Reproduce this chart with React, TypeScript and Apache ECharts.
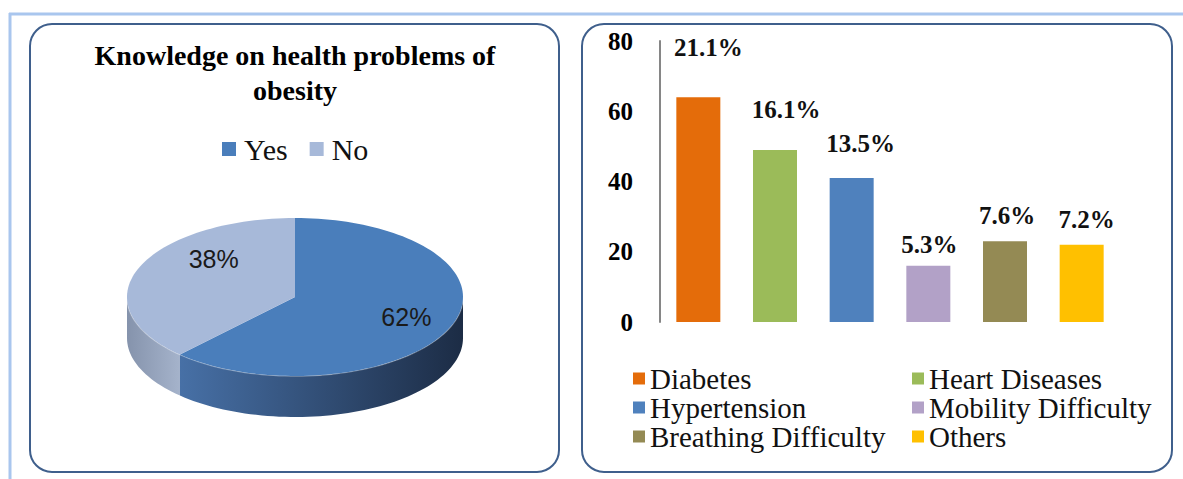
import React, { useEffect, useRef } from "react";
import * as echarts from "echarts";

// ---------- data ----------
const pieNames = ["Yes", "No"];
const pieValues = [62, 38];

const barCategories = [
  "Diabetes",
  "Heart Diseases",
  "Hypertension",
  "Mobility Difficulty",
  "Breathing Difficulty",
  "Others",
];
const barValues = [64, 49, 41, 16, 23, 22];
const barPercents = ["21.1%", "16.1%", "13.5%", "5.3%", "7.6%", "7.2%"];
const yTicks = [0, 20, 40, 60, 80];

// ---------- styles ----------
const barColors = ["#E46C0A", "#9BBB59", "#4F81BD", "#B2A1C7", "#948A54", "#FFC000"];
const barLabelOffsets = [
  [10, -32],
  [11, -23],
  [9, -17],
  [1, -4],
  [2, -8],
  [5, -8],
];
const pieTopColors = ["#4A7EBB", "#A7B9D9"];
const pieSideColors = [
  ["#4770A6", "#1C2C45"],
  ["#8593AC", "#A5B3CB"],
];
const pieLabelShift = [
  [2, 0],
  [28, -18],
];
const SERIF = "'Liberation Serif', 'Times New Roman', serif";

export default function App() {
  const ref = useRef<HTMLDivElement>(null);

  useEffect(() => {
    if (!ref.current) return;
    const chart = echarts.init(ref.current, null, { renderer: "svg" });

    const total = pieValues.reduce((a, b) => a + b, 0);
    const cx = 295;
    const cy = 297;
    const rx = 168;
    const ry = 79;
    const depth = 41;

    const pt = (a: number, dy = 0, f = 1) => [
      cx + rx * f * Math.sin(a),
      cy - ry * f * Math.cos(a) + dy,
    ];

    const arcPts = (a1: number, a2: number, dy = 0) => {
      const pts: number[][] = [];
      const n = Math.max(2, Math.ceil(((a2 - a1) * 180) / Math.PI / 2));
      for (let k = 0; k <= n; k++) pts.push(pt(a1 + ((a2 - a1) * k) / n, dy));
      return pts;
    };

    const pieSeries = pieNames.map((name, i) => {
      const before = pieValues.slice(0, i).reduce((a, b) => a + b, 0);
      return {
        type: "custom",
        name,
        coordinateSystem: "none",
        silent: true,
        itemStyle: { color: pieTopColors[i] },
        data: [[pieValues[i]]],
        renderItem: (params: any, api: any) => {
          const v = api.value(0);
          const a1 = (before / total) * Math.PI * 2;
          const a2 = ((before + v) / total) * Math.PI * 2;
          const children: any[] = [];
          const s1 = Math.max(a1, Math.PI / 2);
          const s2 = Math.min(a2, (Math.PI * 3) / 2);
          if (s2 > s1) {
            const topArc = arcPts(s1, s2);
            const botArc = arcPts(s1, s2, depth).reverse();
            children.push({
              type: "polygon",
              shape: { points: topArc.concat(botArc) },
              style: {
                fill: new echarts.graphic.LinearGradient(0, 0, 1, 0, [
                  { offset: 0, color: pieSideColors[i][0] },
                  { offset: 1, color: pieSideColors[i][1] },
                ]),
                stroke: null,
              },
            });
            children.push({
              type: "polyline",
              shape: { points: topArc },
              style: { stroke: "rgba(255,255,255,0.35)", lineWidth: 1.5, fill: null },
            });
          }
          children.push({
            type: "polygon",
            shape: { points: [[cx, cy]].concat(arcPts(a1, a2)) },
            style: { fill: pieTopColors[i], stroke: null },
          });
          const mid = (a1 + a2) / 2;
          const lp = pt(mid, 0, 0.7);
          children.push({
            type: "text",
            x: lp[0] + pieLabelShift[i][0],
            y: lp[1] + pieLabelShift[i][1],
            style: {
              text: Math.round((v / total) * 100) + "%",
              fontFamily: "'Liberation Sans', Arial, sans-serif",
              fontSize: 25,
              fill: "#1a1a1a",
              align: "center",
              verticalAlign: "middle",
            },
          });
          return { type: "group", children };
        },
      };
    });

    const barSeries = barCategories.map((name, i) => ({
      type: "bar",
      name,
      stack: "all",
      barWidth: 44,
      itemStyle: { color: barColors[i] },
      label: {
        show: true,
        position: "top",
        offset: barLabelOffsets[i],
        formatter: () => barPercents[i],
        fontFamily: SERIF,
        fontWeight: "bold",
        fontSize: 25,
        color: "#111",
      },
      data: barValues.map((v, j) => (j === i ? v : "-")),
    }));

    const legendText = {
      fontFamily: SERIF,
      fontSize: 29,
      lineHeight: 28,
      color: "#111",
    };

    chart.setOption({
      animation: false,
      title: {
        text: "Knowledge on health problems of\nobesity",
        left: 295,
        top: 38,
        textAlign: "center",
        padding: 0,
        textStyle: {
          fontFamily: SERIF,
          fontWeight: "bold",
          fontSize: 28,
          lineHeight: 35,
          color: "#000",
        },
      },
      legend: [
        {
          data: pieNames,
          orient: "horizontal",
          left: 222,
          top: 134,
          padding: 0,
          itemWidth: 14,
          itemHeight: 14,
          itemGap: 22,
          icon: "rect",
          selectedMode: false,
          textStyle: {
            fontFamily: SERIF,
            fontSize: 30,
            lineHeight: 30,
            color: "#111",
            padding: [0, 0, 0, 3],
          },
        },
        {
          data: [barCategories[0], barCategories[2], barCategories[4]],
          orient: "vertical",
          left: 633,
          top: 364,
          padding: 0,
          itemWidth: 12,
          itemHeight: 12,
          itemGap: 0,
          icon: "rect",
          selectedMode: false,
          textStyle: legendText,
        },
        {
          data: [barCategories[1], barCategories[3], barCategories[5]],
          orient: "vertical",
          left: 912,
          top: 364,
          padding: 0,
          itemWidth: 12,
          itemHeight: 12,
          itemGap: 0,
          icon: "rect",
          selectedMode: false,
          textStyle: legendText,
        },
      ],
      grid: { left: 660, right: 63, top: 41, bottom: 157 },
      xAxis: {
        type: "category",
        data: barCategories,
        axisLine: { show: false },
        axisTick: { show: false },
        axisLabel: { show: false },
        splitLine: { show: false },
      },
      yAxis: {
        type: "value",
        min: yTicks[0],
        max: yTicks[yTicks.length - 1],
        interval: yTicks[1] - yTicks[0],
        axisLine: { show: true, lineStyle: { color: "#868686", width: 2 } },
        axisTick: { show: false },
        splitLine: { show: false },
        axisLabel: {
          margin: 27,
          fontFamily: SERIF,
          fontWeight: "bold",
          fontSize: 25,
          color: "#000",
        },
      },
      graphic: [
        {
          type: "line",
          shape: { x1: 9, y1: 14, x2: 1183, y2: 14 },
          style: { stroke: "#A9C6EE", lineWidth: 3 },
          silent: true,
        },
        {
          type: "line",
          shape: { x1: 10, y1: 13, x2: 10, y2: 479 },
          style: { stroke: "#A9C6EE", lineWidth: 3 },
          silent: true,
        },
        {
          type: "rect",
          shape: { x: 30, y: 24, width: 529, height: 448, r: 22 },
          style: { fill: "none", stroke: "#3F5F8C", lineWidth: 2 },
          silent: true,
        },
        {
          type: "rect",
          shape: { x: 582, y: 24, width: 590, height: 448, r: 22 },
          style: { fill: "none", stroke: "#3F5F8C", lineWidth: 2 },
          silent: true,
        },
      ],
      series: [...pieSeries, ...barSeries],
    });

    return () => chart.dispose();
  }, []);

  return (
    <div
      ref={ref}
      style={{ position: "fixed", left: 0, top: 0, width: 1183, height: 479, background: "#fff" }}
    />
  );
}
